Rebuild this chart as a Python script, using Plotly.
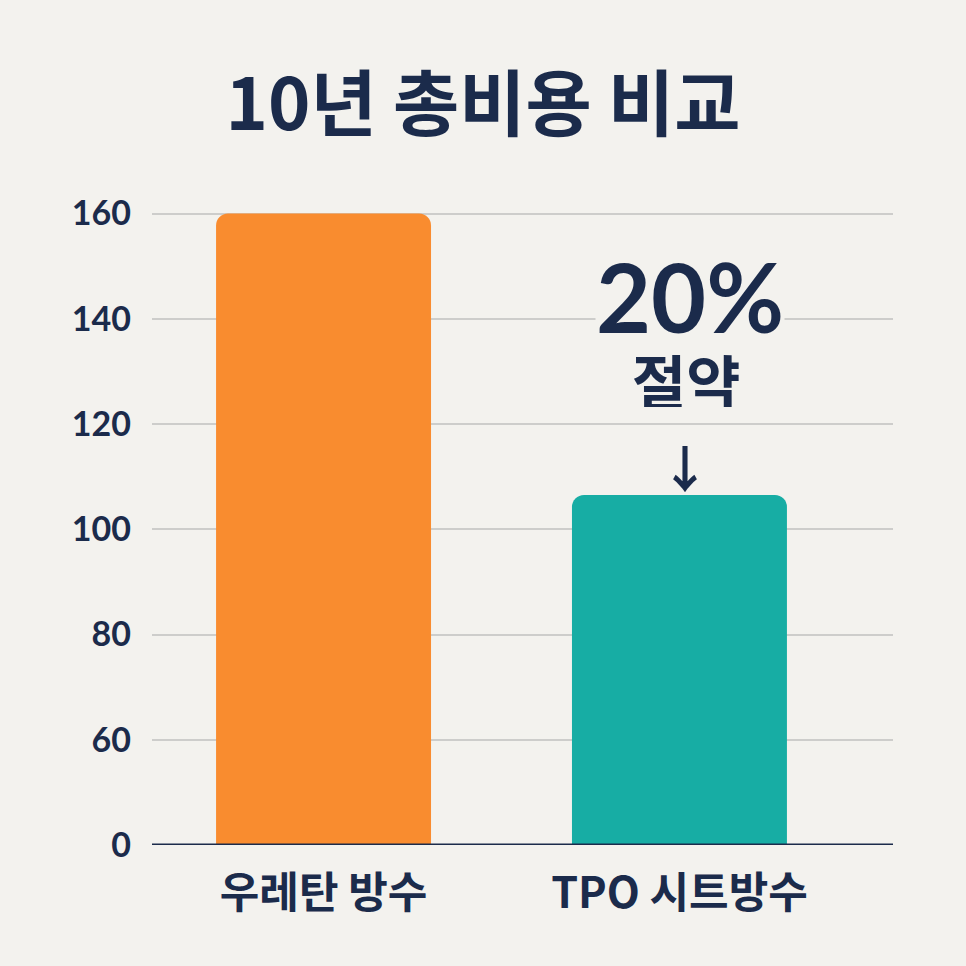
import plotly.graph_objects as go

# data
categories = ["우레탄 방수", "TPO 시트방수"]
cost_values = [160, 106.5]
bar_colors = ["#F98C2F", "#17ADA4"]
tick_values = [40, 60, 80, 100, 120, 140, 160]
tick_labels = ["0", "60", "80", "100", "120", "140", "160"]

NAVY = "#1B2B4B"
BG = "#F3F2EE"
FONT = "Noto Sans CJK KR"

fig = go.Figure()
fig.add_trace(go.Bar(
    x=[0, 1], y=cost_values,
    marker=dict(color=bar_colors, line=dict(width=0)),
    width=0.604,
    hoverinfo="skip",
))

fig.update_layout(
    width=966, height=966,
    paper_bgcolor=BG, plot_bgcolor=BG,
    margin=dict(l=152, r=73, t=203, b=121),
    barcornerradius=12,
    showlegend=False,
    font=dict(family=FONT, color=NAVY),
    title=dict(
        text="<b>10년 총비용 비교</b>",
        x=0.5, xanchor="center", y=0.891, yanchor="middle",
        font=dict(size=72, color=NAVY, family=FONT),
    ),
    xaxis=dict(
        range=[-0.482, 1.6],
        tickvals=[0, 1], ticktext=["<b>%s</b>" % c for c in categories],
        tickfont=dict(size=43, color=NAVY, family=FONT),
        showgrid=False, zeroline=False, showline=False,
        ticks="", ticklabelstandoff=19,
    ),
    yaxis=dict(
        range=[40, 162],
        tickvals=tick_values, ticktext=["<b>%s</b>" % t for t in tick_labels],
        tickfont=dict(size=34, color=NAVY, family="Lato"),
        showgrid=True, gridcolor="#CDCDCB", gridwidth=1.5,
        zeroline=False, showline=False, ticks="", ticklabelstandoff=20,
    ),
)

# baseline
fig.add_shape(type="line", xref="paper", yref="y", x0=0, x1=1, y0=40, y1=40,
              line=dict(color=NAVY, width=3), layer="above")

fig.add_annotation(x=1.03, y=144.4, xref="x", yref="y", text="<b>20%</b>",
                   showarrow=False, bgcolor=BG, borderpad=0, height=78,
                   font=dict(size=95, color=NAVY, family="Lato"))
fig.add_annotation(x=1.02, y=128.6, xref="x", yref="y", text="<b>절약</b>",
                   showarrow=False, height=56,
                   font=dict(size=59, color=NAVY, family=FONT))
fig.add_annotation(x=1.015, y=112.0, xref="x", yref="y", text="<b>↓</b>",
                   showarrow=False,
                   font=dict(size=50, color=NAVY, family=FONT))

fig.write_html("out.html", config={"displayModeBar": False},
               post_script="document.body.style.margin='0';")
